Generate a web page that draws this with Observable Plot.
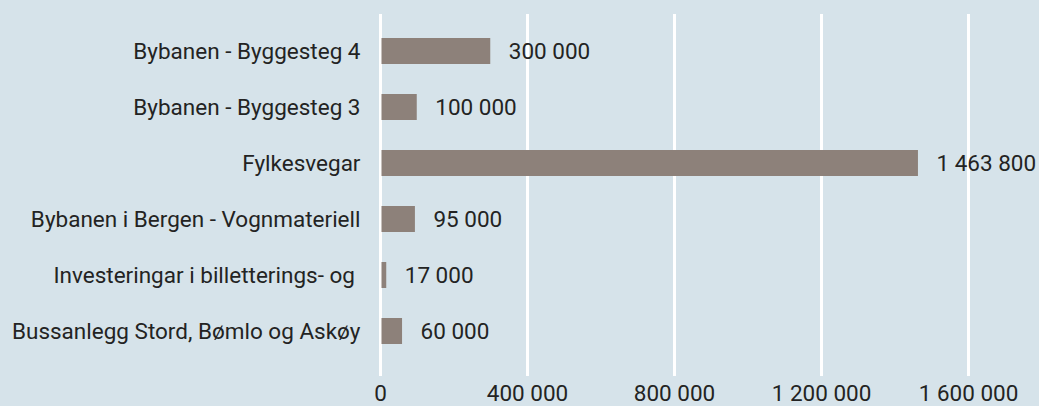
<!DOCTYPE html>
<html>
<head>
<meta charset="utf-8">
<script src="https://cdn.jsdelivr.net/npm/d3@7"></script>
<script src="https://cdn.jsdelivr.net/npm/@observablehq/plot@0.6"></script>
<style>
  html, body { margin: 0; padding: 0; background: #d6e3ea; }
  #chart svg { display: block; }
</style>
</head>
<body>
<div id="chart"></div>
<script>
const categories = [
  "Bybanen - Byggesteg 4",
  "Bybanen - Byggesteg 3",
  "Fylkesvegar",
  "Bybanen i Bergen - Vognmateriell",
  "Investeringar i billetterings- og\u00a0",
  "Bussanlegg Stord, Bømlo og Askøy"
];
const values = [300000, 100000, 1463800, 95000, 17000, 60000];
const xTicks = [0, 400000, 800000, 1200000, 1600000];

const data = categories.map((c, i) => ({category: c, value: values[i]}));
const locale = d3.formatLocale({decimal: ",", thousands: " ", grouping: [3], currency: ["", " kr"]});
const fmt = locale.format(",d");

const chart = Plot.plot({
  width: 1039,
  height: 406,
  marginLeft: 380,
  marginRight: 71,
  marginTop: 14,
  marginBottom: 30,
  style: {
    background: "#d6e3ea",
    fontFamily: "Roboto, sans-serif",
    fontSize: "22.5px",
    fontWeight: 400,
    color: "#232323"
  },
  x: {domain: [0, 1600000], ticks: xTicks, tickFormat: fmt, tickSize: 0, tickPadding: 9, label: null},
  y: {domain: categories, padding: 0.54, paddingOuter: 0.27, insetTop: 7, insetBottom: 15, tickSize: 0, tickPadding: 20, label: null},
  marks: [
    Plot.ruleX(xTicks, {stroke: "#ffffff", strokeWidth: 3}),
    Plot.barX(data, {x: "value", y: "category", fill: "#8d817a", insetLeft: 1.5}),
    Plot.text(data, {x: "value", y: "category", text: d => fmt(d.value), textAnchor: "start", dx: 18, fill: "#232323"}),
    Plot.axisY({tickSize: 0, tickPadding: 20, fill: "#232323"}),
    Plot.axisX({ticks: xTicks, tickFormat: fmt, tickSize: 0, tickPadding: 9, fill: "#232323"})
  ]
});
document.getElementById("chart").appendChild(chart);
</script>
</body>
</html>
